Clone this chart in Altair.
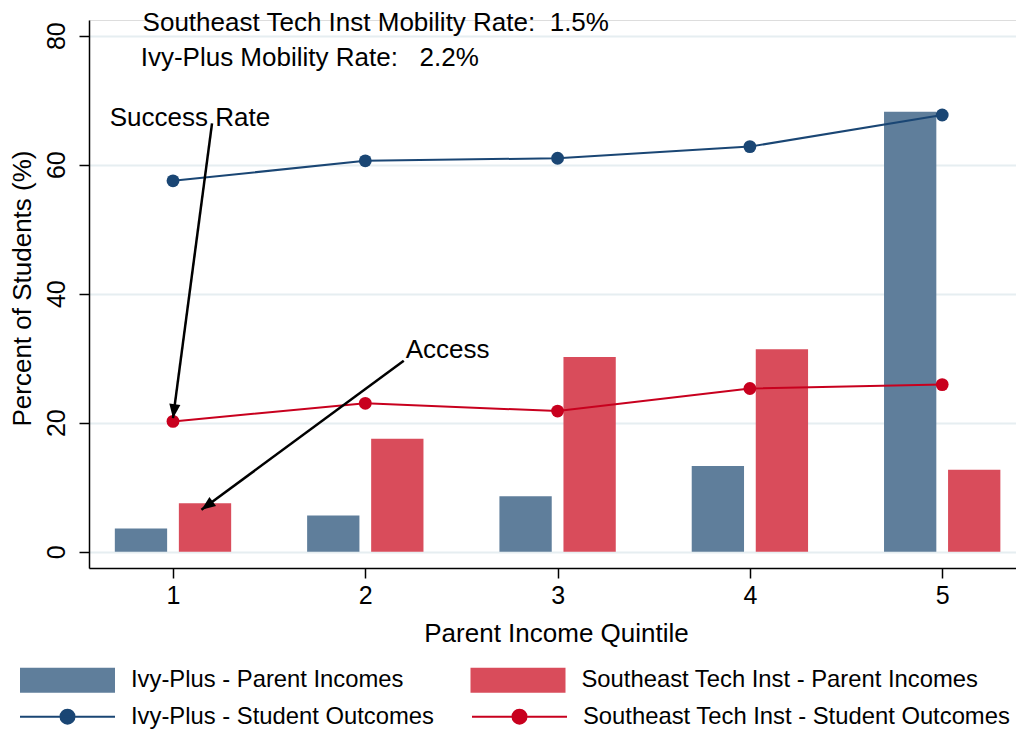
import math
import altair as alt
import pandas as pd

# ---------------- data ----------------
quintiles = [1, 2, 3, 4, 5]
ivy_parent_incomes = [3.6, 5.6, 8.6, 13.3, 68.2]
se_parent_incomes = [7.5, 17.5, 30.2, 31.4, 12.7]
ivy_student_outcomes = [57.5, 60.6, 61.0, 62.8, 67.7]
se_student_outcomes = [20.2, 23.0, 21.8, 25.3, 25.9]

bar_series = ["Ivy-Plus - Parent Incomes", "Southeast Tech Inst - Parent Incomes"]
line_series = ["Ivy-Plus - Student Outcomes", "Southeast Tech Inst - Student Outcomes"]
x_ticks = [1, 2, 3, 4, 5]
y_ticks = [0, 20, 40, 60, 80]

note_text = [
    "Southeast Tech Inst Mobility Rate:\u00a0\u00a01.5%",
    "Ivy-Plus Mobility Rate:\u00a0\u00a0\u00a02.2%",
    "Success Rate",
    "Access",
]
note_x = [0.842, 0.832, 0.671, 2.21]
note_y = [82.0, 76.5, 67.2, 31.2]

arrow_from_x = [1.203, 2.200]
arrow_from_y = [66.4, 29.6]
arrow_to_x = [1.0, 1.148]
arrow_to_y = [20.7, 6.5]

# ---------------- styling ----------------
BAR_COLORS = ["#5f7e9b", "#d94c5b"]
LINE_COLORS = ["#1a4674", "#c8001e"]
FONT = "Liberation Sans"
FS = 25      # tick labels
FST = 26     # titles and notes
FSL = 23.8   # legend labels
W, H = 927, 548
X_DOM = [0.5632, 5.3838]
Y_DOM = [-2.53, 82.43]
BAR_SHIFT = 0.1665
BAR_HALF = 0.136

px_x = W / (X_DOM[1] - X_DOM[0])
px_y = H / (Y_DOM[1] - Y_DOM[0])


def head_angle(x1, y1, x2, y2):
    dx = (x2 - x1) * px_x
    dy = -(y2 - y1) * px_y
    return math.degrees(math.atan2(dx, -dy)) % 360


# ---------------- tables ----------------
bars_df = pd.DataFrame({
    "q": quintiles * 2,
    "series": [bar_series[0]] * 5 + [bar_series[1]] * 5,
    "value": ivy_parent_incomes + se_parent_incomes,
})
lines_df = pd.DataFrame({
    "q": quintiles * 2,
    "series": [line_series[0]] * 5 + [line_series[1]] * 5,
    "value": ivy_student_outcomes + se_student_outcomes,
})
notes_df = pd.DataFrame({"x": note_x, "y": note_y, "label": note_text})
arrows_df = pd.DataFrame({
    "x": arrow_from_x, "y": arrow_from_y,
    "x2": arrow_to_x, "y2": arrow_to_y,
})
arrows_df["ang"] = [head_angle(a, b, c, d) for a, b, c, d in
                    zip(arrow_from_x, arrow_from_y, arrow_to_x, arrow_to_y)]

xscale = alt.Scale(domain=X_DOM, nice=False, zero=False)
yscale = alt.Scale(domain=Y_DOM, nice=False, zero=False)

x_axis = alt.Axis(
    values=x_ticks, format="d", grid=False, tickSize=10, labelPadding=5,
    title="Parent Income Quintile", titleX=467, titleY=73,
    titleBaseline="alphabetic", titleAlign="center", titleFontSize=FST,
)
y_axis = alt.Axis(
    values=y_ticks, format="d", grid=True, tickSize=10, labelPadding=23,
    labelAngle=270, labelAlign="center", labelBaseline="middle",
    title="Percent of Students (%)", titleAngle=270, titleX=-67, titleY=268,
    titleBaseline="middle", titleAlign="center", titleFontSize=FST,
)

BAR_PATH = "M-9.5,-2.5H9.5V2.5H-9.5Z"
LINE_PATH = "M-9.5,0H9.5M-1.4,0A1.4,1.4,0,1,1,1.4,0A1.4,1.4,0,1,1,-1.4,0Z"
HEAD_PATH = "M0,0L-0.8,2L0.8,2Z"

bar_legend = alt.Legend(
    orient="none", legendX=-69, legendY=648, direction="horizontal",
    columns=2, title=None, symbolType=BAR_PATH, symbolSize=100,
    symbolStrokeWidth=0, symbolOffset=35.6, labelOffset=51.6, columnPadding=66.5,
    labelFontSize=FSL, labelFont=FONT, labelColor="black", labelLimit=700,
    padding=0, gridAlign="each",
)
line_legend = alt.Legend(
    orient="none", legendX=-69, legendY=684.6, direction="horizontal",
    columns=2, title=None, symbolType=LINE_PATH, symbolSize=100,
    symbolStrokeWidth=2, symbolOffset=35.6, labelOffset=51.6, columnPadding=34,
    labelFontSize=FSL, labelFont=FONT, labelColor="black", labelLimit=700,
    padding=0, gridAlign="each", symbolOpacity=1,
    symbolFillColor={"expr": "scale('stroke', datum.value)"},
)

bars = alt.Chart(bars_df).transform_calculate(
    side=f"datum.series == '{bar_series[0]}' ? -1 : 1"
).transform_calculate(
    xa=f"datum.q + datum.side * {BAR_SHIFT} - {BAR_HALF}",
    xb=f"datum.q + datum.side * {BAR_SHIFT} + {BAR_HALF}",
).mark_bar(opacity=1).encode(
    x=alt.X("xa:Q", scale=xscale, axis=x_axis),
    x2="xb:Q",
    y=alt.Y("value:Q", scale=yscale, axis=y_axis),
    y2=alt.datum(0),
    fill=alt.Fill("series:N", scale=alt.Scale(domain=bar_series, range=BAR_COLORS),
                  legend=bar_legend),
)

lines = alt.Chart(lines_df).mark_line(strokeWidth=2).encode(
    x=alt.X("q:Q", scale=xscale, axis=x_axis),
    y=alt.Y("value:Q", scale=yscale, axis=y_axis),
    stroke=alt.Stroke("series:N", scale=alt.Scale(domain=line_series, range=LINE_COLORS),
                      legend=line_legend),
    detail="series:N",
)

points = alt.Chart(lines_df).mark_circle(size=165, opacity=1).encode(
    x=alt.X("q:Q", scale=xscale, axis=x_axis),
    y=alt.Y("value:Q", scale=yscale, axis=y_axis),
    color=alt.Color("series:N", scale=alt.Scale(domain=line_series, range=LINE_COLORS),
                    legend=None),
)

arrow_lines = alt.Chart(arrows_df).mark_rule(strokeWidth=2.5, color="black").encode(
    x=alt.X("x:Q", scale=xscale, axis=x_axis),
    y=alt.Y("y:Q", scale=yscale, axis=y_axis),
    x2="x2:Q",
    y2="y2:Q",
)

arrow_heads = alt.Chart(arrows_df).mark_point(
    shape=HEAD_PATH, size=196, filled=True, color="black", opacity=1, strokeWidth=0
).encode(
    x=alt.X("x2:Q", scale=xscale, axis=x_axis),
    y=alt.Y("y2:Q", scale=yscale, axis=y_axis),
    angle=alt.Angle("ang:Q", scale=None),
)

notes = alt.Chart(notes_df).mark_text(
    align="left", baseline="middle", fontSize=FST, font=FONT, color="black"
).encode(
    x=alt.X("x:Q", scale=xscale, axis=x_axis),
    y=alt.Y("y:Q", scale=yscale, axis=y_axis),
    text="label:N",
)

chart = alt.layer(bars, lines, points, arrow_lines, arrow_heads, notes).properties(
    width=W, height=H,
    autosize=alt.AutoSizeParams(type="none"),
    padding={"left": 81, "top": 12, "right": 0, "bottom": 162},
).configure_view(stroke=None).configure(
    font=FONT, background="white"
).configure_axis(
    labelFont=FONT, titleFont=FONT, labelFontSize=FS,
    labelColor="black", titleColor="black", titleFontWeight="normal",
    domainColor="black", tickColor="black", domainWidth=1.5, tickWidth=1.5,
    gridColor="#e6eef1", gridWidth=1.8,
)

chart.save("out.html", embed_options={"renderer": "svg", "actions": False})
